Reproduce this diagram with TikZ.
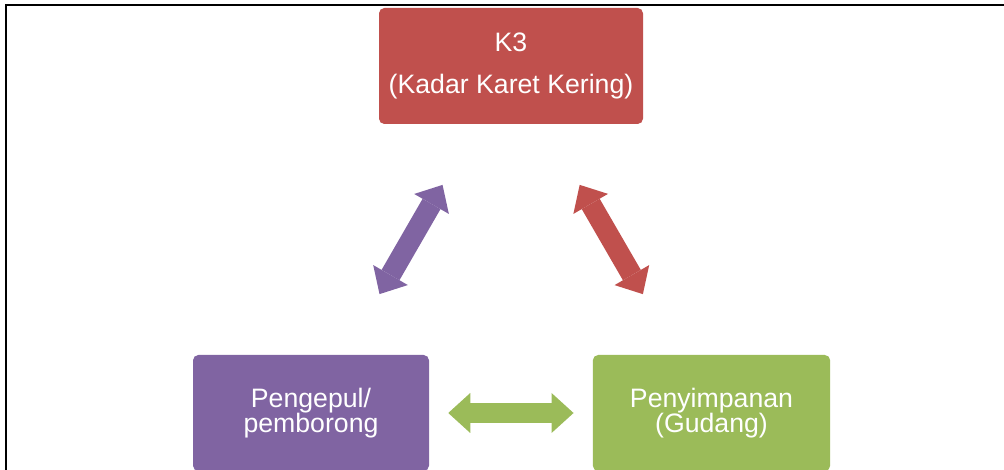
\documentclass[tikz,border=0pt]{standalone}
\usepackage{fontspec}
\setmainfont{Liberation Sans}
\usetikzlibrary{arrows.meta}

\definecolor{kred}{HTML}{C0504D}
\definecolor{kpurple}{HTML}{8064A2}
\definecolor{kgreen}{HTML}{9BBB59}

\tikzset{
    box/.style={rectangle, rounded corners=4pt, draw=none, text=white, align=center,
        minimum height=87pt, font=\fontsize{20}{19}\selectfont},
    fatarrow/.style={line width=15.5pt,
        {Triangle[length=16.5pt,width=30pt,line width=0pt]}-{Triangle[length=16.5pt,width=30pt,line width=0pt]}}
}

\begin{document}
\begin{tikzpicture}[x=0.75pt, y=-0.75pt]

    % Page size and frame
    \useasboundingbox (0,0) rectangle (1004,470);
    \draw[line width=1.1pt] (6,480) -- (6,5) -- (1010,5);

    % Boxes
    \node[box, fill=kred, minimum width=198pt] (k3) at (511,66) {K3\\[12pt](Kadar Karet Kering)};
    \node[box, fill=kpurple, minimum width=177pt] (pengepul) at (311,413) {Pengepul/\\pemborong};
    \node[box, fill=kgreen, minimum width=178pt] (gudang) at (711.5,413) {Penyimpanan\\(Gudang)};

    % Arrows between boxes
    \draw[fatarrow, kpurple, shorten <=52.5pt, shorten >=52.5pt] (pengepul) -- (k3);
    \draw[fatarrow, kred, shorten <=52.5pt, shorten >=52.5pt] (k3) -- (gudang);
    \draw[fatarrow, kgreen, shorten <=14.25pt, shorten >=14.25pt] (pengepul) -- (gudang);

\end{tikzpicture}
\end{document}
